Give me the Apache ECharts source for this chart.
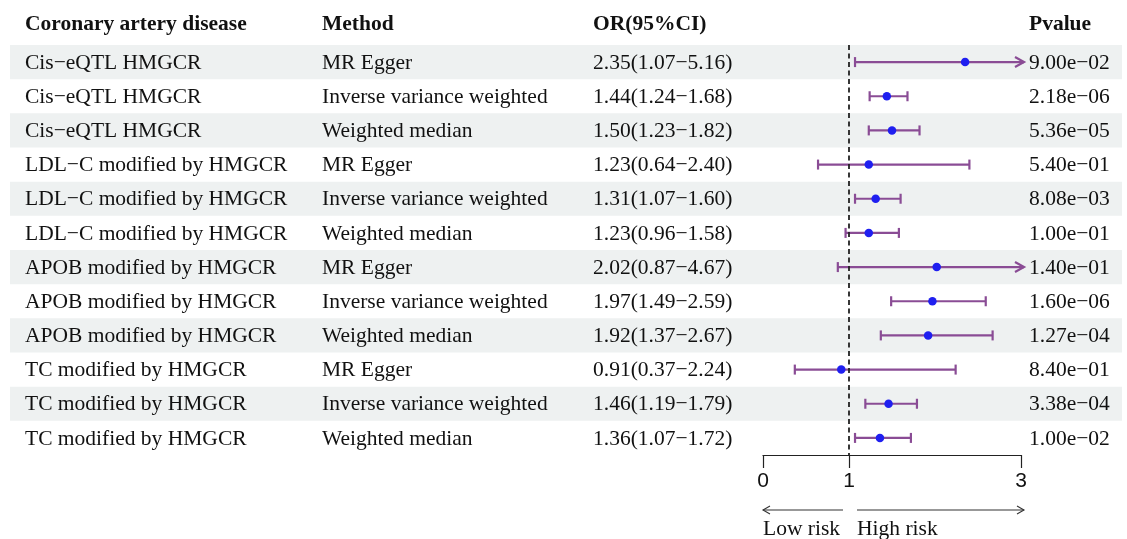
<!DOCTYPE html>
<html>
<head>
<meta charset="utf-8">
<script src="https://cdn.jsdelivr.net/npm/echarts@6/dist/echarts.min.js"></script>
<style>
  html, body { margin: 0; padding: 0; background: #fff; }
  #chart { width: 1127px; height: 539px; }
</style>
</head>
<body>
<div id="chart"></div>
<script>
// Forest plot: MR estimates of HMGCR-related exposures on coronary artery disease
const headers = ['Coronary artery disease', 'Method', 'OR(95%CI)', 'Pvalue'];
const exposures = [
  'Cis\u2212eQTL HMGCR', 'Cis\u2212eQTL HMGCR', 'Cis\u2212eQTL HMGCR',
  'LDL\u2212C modified by HMGCR', 'LDL\u2212C modified by HMGCR', 'LDL\u2212C modified by HMGCR',
  'APOB modified by HMGCR', 'APOB modified by HMGCR', 'APOB modified by HMGCR',
  'TC modified by HMGCR', 'TC modified by HMGCR', 'TC modified by HMGCR'
];
const methods = [
  'MR Egger', 'Inverse variance weighted', 'Weighted median',
  'MR Egger', 'Inverse variance weighted', 'Weighted median',
  'MR Egger', 'Inverse variance weighted', 'Weighted median',
  'MR Egger', 'Inverse variance weighted', 'Weighted median'
];
const orValues = [2.35, 1.44, 1.50, 1.23, 1.31, 1.23, 2.02, 1.97, 1.92, 0.91, 1.46, 1.36];
const ciLower  = [1.07, 1.24, 1.23, 0.64, 1.07, 0.96, 0.87, 1.49, 1.37, 0.37, 1.19, 1.07];
const ciUpper  = [5.16, 1.68, 1.82, 2.40, 1.60, 1.58, 4.67, 2.59, 2.67, 2.24, 1.79, 1.72];
const pValues = [
  '9.00e\u221202', '2.18e\u221206', '5.36e\u221205', '5.40e\u221201',
  '8.08e\u221203', '1.00e\u221201', '1.40e\u221201', '1.60e\u221206',
  '1.27e\u221204', '8.40e\u221201', '3.38e\u221204', '1.00e\u221202'
];
const axisTicks = [0, 1, 3];
const axisMin = 0, axisMax = 3;
const riskLabels = ['Low risk', 'High risk'];

const SERIF = '"Liberation Serif", "Times New Roman", serif';
const SANS = '"Liberation Sans", Arial, sans-serif';
const FS = 21.5;
const CI_COLOR = '#8a4c95';
const PT_COLOR = '#1f1ff0';
const BAND = '#eef1f1';
const COL_X = [25, 322, 593, 1029];

const rowIds = exposures.map((_, i) => String(i));
const fmt = v => v.toFixed(2);
const orText = orValues.map((v, i) => fmt(v) + '(' + fmt(ciLower[i]) + '\u2212' + fmt(ciUpper[i]) + ')');

const chart = echarts.init(document.getElementById('chart'), null, { renderer: 'canvas' });

const option = {
  animation: false,
  backgroundColor: '#fff',
  grid: { left: 763, right: 106, top: 45, height: 410, containLabel: false },
  xAxis: {
    type: 'value', min: axisMin, max: axisMax, interval: 1,
    splitLine: { show: false },
    axisLine: { show: true, lineStyle: { color: '#222', width: 1.2 } },
    axisTick: { show: true, length: 13, customValues: axisTicks, lineStyle: { color: '#222', width: 1.2 } },
    axisLabel: { customValues: axisTicks, fontFamily: SANS, fontSize: 21, color: '#111', margin: 16 }
  },
  yAxis: {
    type: 'category', data: rowIds, inverse: true,
    axisLine: { show: false }, axisTick: { show: false }, axisLabel: { show: false },
    splitLine: { show: false }
  },
  series: [
    {
      // alternating row shading
      type: 'custom', clip: false, z: 0, silent: true,
      data: rowIds.map((_, i) => [0, i]),
      renderItem: function (params, api) {
        const i = api.value(1);
        if (i % 2 !== 0) return null;
        const y = api.coord([0, i])[1];
        const h = api.size([0, 1])[1];
        return { type: 'rect', shape: { x: 10, y: y - h / 2, width: 1112, height: h }, style: { fill: BAND } };
      }
    },
    {
      // table text columns
      type: 'custom', clip: false, z: 2, silent: true,
      data: rowIds.map((_, i) => [0, i]),
      renderItem: function (params, api) {
        const i = api.value(1);
        const y = api.coord([0, i])[1];
        const cols = [exposures[i], methods[i], orText[i], pValues[i]];
        return {
          type: 'group',
          children: cols.map((t, c) => ({
            type: 'text',
            style: { text: t, x: COL_X[c], y: y + 1, font: FS + 'px ' + SERIF, fill: '#111', verticalAlign: 'middle', align: 'left' }
          }))
        };
      }
    },
    {
      // confidence intervals, arrow where the upper bound runs past the axis
      type: 'custom', clip: false, z: 3,
      data: orValues.map((v, i) => [ciLower[i], i, ciUpper[i]]),
      renderItem: function (params, api) {
        const lo = api.value(0), i = api.value(1), hi = api.value(2);
        const p0 = api.coord([Math.max(lo, axisMin), i]);
        const over = hi > axisMax;
        const p1 = api.coord([Math.min(hi, axisMax), i]);
        const y = p0[1];
        const ls = { stroke: CI_COLOR, lineWidth: 2.2, fill: null };
        const kids = [
          { type: 'line', shape: { x1: p0[0], y1: y, x2: over ? p1[0] + 3 : p1[0], y2: y }, style: ls },
          { type: 'line', shape: { x1: p0[0], y1: y - 5, x2: p0[0], y2: y + 5 }, style: ls }
        ];
        if (over) {
          const tx = p1[0] + 3;
          kids.push({ type: 'polyline', shape: { points: [[tx - 9, y - 5], [tx, y], [tx - 9, y + 5]] }, style: ls });
        } else {
          kids.push({ type: 'line', shape: { x1: p1[0], y1: y - 5, x2: p1[0], y2: y + 5 }, style: ls });
        }
        return { type: 'group', children: kids };
      }
    },
    {
      type: 'scatter', z: 4,
      data: orValues.map((v, i) => [v, i]),
      symbol: 'circle', symbolSize: 8.5,
      itemStyle: { color: PT_COLOR, opacity: 1 },
      markLine: {
        silent: true, symbol: ['none', 'none'],
        label: { show: false },
        lineStyle: { type: [5, 3.5], color: '#222', width: 1.8 },
        data: [{ xAxis: 1 }]
      }
    }
  ],
  graphic: headers.map((h, c) => ({
    type: 'text', x: COL_X[c], y: 24,
    style: { text: h, font: 'bold ' + FS + 'px ' + SERIF, fill: '#111', verticalAlign: 'middle' }
  }))
};

chart.setOption(option);

// risk direction arrows beneath the axis
const x0 = chart.convertToPixel({ gridIndex: 0 }, [axisTicks[0], 0])[0];
const x1 = chart.convertToPixel({ gridIndex: 0 }, [axisTicks[1], 0])[0];
const x3 = chart.convertToPixel({ gridIndex: 0 }, [axisTicks[2], 0])[0];
const ay = 510;
const arrowStyle = { stroke: '#333', lineWidth: 1.1, fill: null };
chart.setOption({
  graphic: option.graphic.concat([
    { type: 'line', shape: { x1: x1 - 6, y1: ay, x2: x0, y2: ay }, style: arrowStyle },
    { type: 'polyline', shape: { points: [[x0 + 7, ay - 4], [x0, ay], [x0 + 7, ay + 4]] }, style: arrowStyle },
    { type: 'line', shape: { x1: x1 + 8, y1: ay, x2: x3 + 3, y2: ay }, style: arrowStyle },
    { type: 'polyline', shape: { points: [[x3 - 4, ay - 4], [x3 + 3, ay], [x3 - 4, ay + 4]] }, style: arrowStyle },
    { type: 'text', x: x0, y: 529, style: { text: riskLabels[0], font: FS + 'px ' + SERIF, fill: '#111', verticalAlign: 'middle' } },
    { type: 'text', x: x1 + 8, y: 529, style: { text: riskLabels[1], font: FS + 'px ' + SERIF, fill: '#111', verticalAlign: 'middle' } }
  ])
});
</script>
</body>
</html>
